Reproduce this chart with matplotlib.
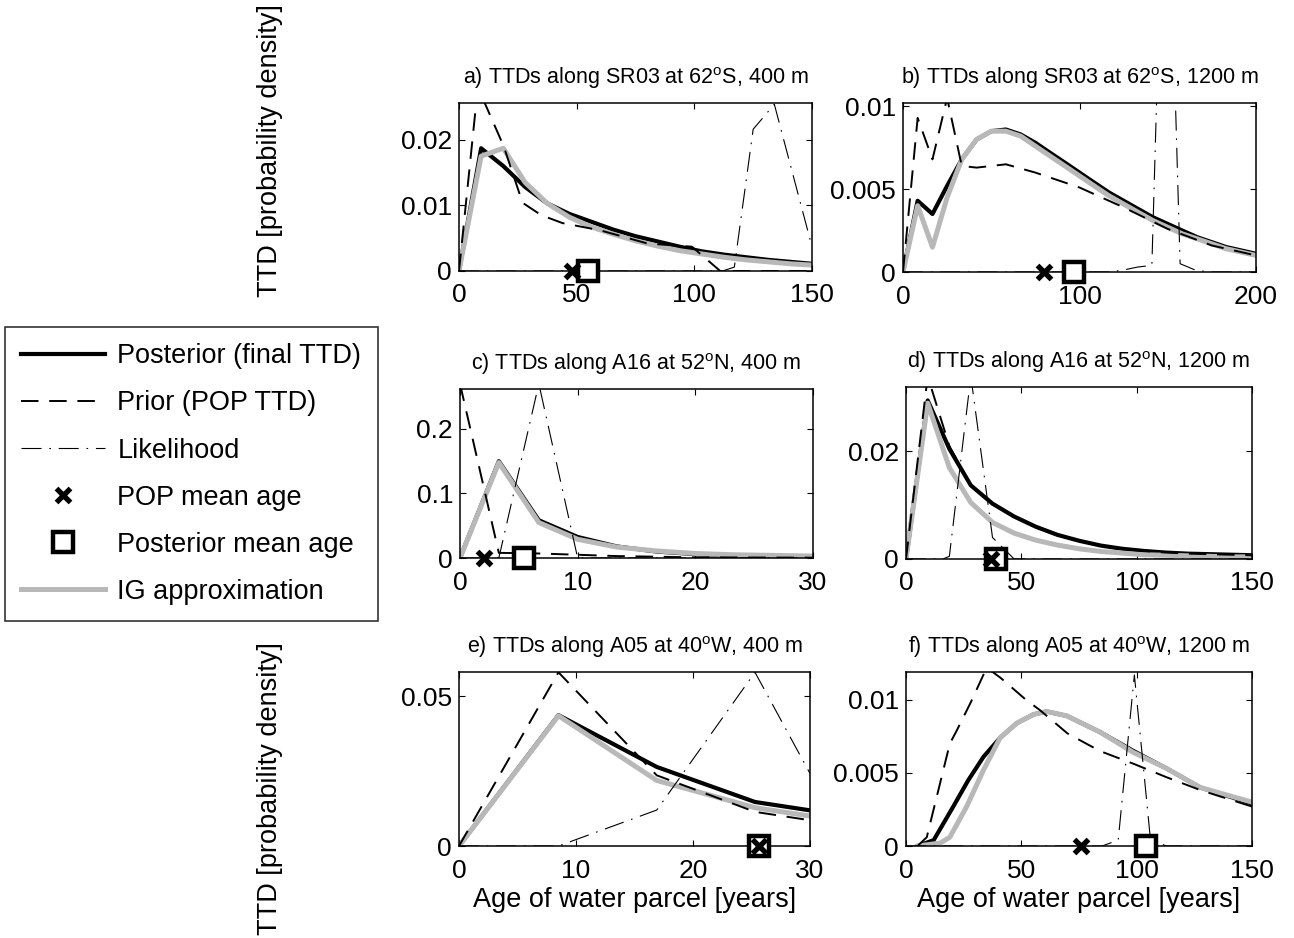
import matplotlib
matplotlib.use("Agg")
import matplotlib.pyplot as plt
from matplotlib.lines import Line2D

plt.rcParams['font.family'] = ['Liberation Sans', 'DejaVu Sans']
plt.rcParams['mathtext.fontset'] = 'custom'
plt.rcParams['mathtext.rm'] = 'Liberation Sans'

# ---------------- data ----------------
# panel a
a_x_post = [0, 9.4, 18.8, 28.1, 37.5, 46.9, 56.3, 65.6, 75, 84.4, 93.8, 103.1, 112.5, 121.9, 131.3, 140.6, 150]
a_post = [0, 0.0187, 0.0160, 0.0128, 0.0103, 0.0087, 0.0075, 0.0063, 0.0053, 0.0045, 0.0037, 0.0030, 0.0025, 0.0021, 0.0017, 0.0014, 0.0011]
a_ig = [0, 0.0175, 0.0187, 0.0135, 0.0103, 0.0082, 0.0067, 0.0056, 0.0046, 0.0038, 0.0031, 0.0026, 0.0021, 0.0017, 0.0014, 0.0011, 0.0009]
a_x_prior = [0, 8, 19, 27, 35, 44, 60, 80, 99, 111, 150]
a_prior = [0, 0.028, 0.019, 0.0104, 0.0085, 0.0073, 0.0062, 0.0042, 0.0037, 0.0, 0.0]
a_x_lik = [0, 112, 117, 125, 134, 150]
a_lik = [0, 0, 0.0006, 0.0216, 0.0254, 0.0037]
a_pop_mean = 48
a_post_mean = 55

# panel b
b_x_post = [0, 8.3, 16.7, 25, 33.3, 41.7, 50, 58.3, 66.7, 75, 83.3, 91.7, 100, 108.3, 116.7, 125, 133.3, 141.7, 150, 158.3, 166.7, 175, 183.3, 191.7, 200]
b_post = [0, 0.0043, 0.0035, 0.0052, 0.0068, 0.0080, 0.0085, 0.0086, 0.0083, 0.0078, 0.0072, 0.0066, 0.0060, 0.0054, 0.0048, 0.0043, 0.0038, 0.0033, 0.0029, 0.0025, 0.0021, 0.0018, 0.0015, 0.0013, 0.0011]
b_ig = [0, 0.0040, 0.0015, 0.0045, 0.0068, 0.0080, 0.0085, 0.0085, 0.0082, 0.0076, 0.0070, 0.0064, 0.0058, 0.0052, 0.0046, 0.0041, 0.0036, 0.0031, 0.0027, 0.0023, 0.0020, 0.0017, 0.0014, 0.0012, 0.0010]
b_x_prior = [0, 8.3, 16.7, 25, 33.3, 41.7, 50, 58.3, 75, 100, 125, 150, 175, 200]
b_prior = [0, 0.0093, 0.0068, 0.0105, 0.0064, 0.0063, 0.0064, 0.0065, 0.0060, 0.0051, 0.0039, 0.0026, 0.0016, 0.0010]
b_x_lik = [0, 116, 124, 133, 141, 149, 157, 166, 174, 200]
b_lik = [0, 0, 0.0001, 0.0003, 0.0004, 0.03, 0.0005, 0.0001, 0, 0]
b_pop_mean = 80
b_post_mean = 97

# panel c
c_x_post = [0, 3.3, 6.7, 10, 13.3, 16.7, 20, 23.3, 26.7, 30]
c_post = [0, 0.150, 0.0585, 0.0326, 0.018, 0.010, 0.006, 0.004, 0.003, 0.002]
c_ig = [0, 0.148, 0.055, 0.029, 0.017, 0.011, 0.007, 0.005, 0.004, 0.003]
c_x_prior = [0, 3.3, 6.7, 10, 13.3, 16.7, 20, 30]
c_prior = [0.27, 0.008, 0.007, 0.005, 0.003, 0.002, 0.001, 0.0005]
c_x_lik = [0, 3.3, 6.7, 10, 30]
c_lik = [0, 0, 0.27, 0, 0]
c_pop_mean = 2.0
c_post_mean = 5.4

# panel d
d_x_post = [0, 9.4, 18.8, 28.1, 37.5, 46.9, 56.3, 65.6, 75, 84.4, 93.8, 103.1, 112.5, 121.9, 131.3, 140.6, 150]
d_post = [0, 0.0295, 0.0205, 0.0137, 0.0103, 0.0079, 0.0060, 0.0045, 0.0034, 0.0025, 0.0019, 0.0015, 0.0012, 0.0010, 0.0009, 0.0008, 0.0007]
d_ig = [0, 0.0290, 0.0170, 0.0105, 0.0068, 0.0048, 0.0035, 0.0026, 0.0019, 0.0014, 0.0011, 0.0008, 0.0007, 0.0006, 0.0005, 0.0004, 0.0004]
d_prior = [0, 0.034, 0.0210, 0.0137, 0.0103, 0.0079, 0.0060, 0.0045, 0.0034, 0.0025, 0.0019, 0.0015, 0.0012, 0.0010, 0.0009, 0.0008, 0.0007]
d_x_lik = [0, 16, 18.8, 28.1, 37.5, 46.9, 150]
d_lik = [0, 0, 0.0005, 0.034, 0.004, 0, 0]
d_pop_mean = 37
d_post_mean = 39

# panel e
e_x_post = [0, 8.5, 16.9, 25.3, 30]
e_post = [0, 0.0437, 0.0264, 0.0147, 0.0119]
e_ig = [0, 0.0435, 0.0219, 0.0128, 0.0100]
e_prior = [0, 0.058, 0.0236, 0.0114, 0.0086]
e_x_lik = [0, 8.5, 16.9, 25.3, 30]
e_lik = [0, 0, 0.012, 0.058, 0.0242]
e_pop_mean = 25.6
e_post_mean = 25.6

# panel f
f_x_post = [5, 12, 20.5, 27, 33.6, 40.8, 48, 55.3, 61, 69.7, 84, 98.6, 113, 127.6, 150]
f_post = [0, 0.0004, 0.0027, 0.0045, 0.0061, 0.0074, 0.0084, 0.0090, 0.0092, 0.0089, 0.0078, 0.0065, 0.0053, 0.0040, 0.0029]
f_x_ig = [5, 14.8, 19, 26.3, 33.6, 40.8, 48, 55.3, 61, 69.7, 84, 98.6, 113, 127.6, 150]
f_ig = [0, 0.0002, 0.0006, 0.0027, 0.0052, 0.0074, 0.0084, 0.0090, 0.0092, 0.0089, 0.0078, 0.0064, 0.0053, 0.0040, 0.0030]
f_x_prior = [5, 9, 19, 22, 28, 35, 41, 52, 58, 70, 84, 99, 113, 128, 150]
f_prior = [0, 0.0006, 0.0070, 0.0079, 0.0098, 0.0122, 0.0115, 0.0100, 0.0093, 0.0077, 0.0065, 0.0056, 0.0047, 0.0038, 0.0027]
f_x_lik = [0, 85, 92, 99, 106, 113, 150]
f_lik = [0, 0, 0.0004, 0.0117, 0.0004, 0, 0]
f_pop_mean = 76
f_post_mean = 104

titles = [r"a) TTDs along SR03 at 62$^{\mathrm{o}}$S, 400 m",
          r"b) TTDs along SR03 at 62$^{\mathrm{o}}$S, 1200 m",
          r"c) TTDs along A16 at 52$^{\mathrm{o}}$N, 400 m",
          r"d) TTDs along A16 at 52$^{\mathrm{o}}$N, 1200 m",
          r"e) TTDs along A05 at 40$^{\mathrm{o}}$W, 400 m",
          r"f) TTDs along A05 at 40$^{\mathrm{o}}$W, 1200 m"]
xlims = [150, 200, 30, 150, 30, 150]
ylims = [0.0256, 0.0102, 0.262, 0.032, 0.0581, 0.0119]
xticks = [[0, 50, 100, 150], [0, 100, 200], [0, 10, 20, 30], [0, 50, 100, 150], [0, 10, 20, 30], [0, 50, 100, 150]]
yticks = [[0, 0.01, 0.02], [0, 0.005, 0.01], [0, 0.1, 0.2], [0, 0.02], [0, 0.05], [0, 0.005, 0.01]]
ytlabels = [["0", "0.01", "0.02"], ["0", "0.005", "0.01"], ["0", "0.1", "0.2"], ["0", "0.02"], ["0", "0.05"], ["0", "0.005", "0.01"]]
legend_labels = ["Posterior (final TTD)", "Prior (POP TTD)", "Likelihood",
                 "POP mean age", "Posterior mean age", "IG approximation"]
xlabel = "Age of water parcel [years]"
ylabel = "TTD [probability density]"

panels = [
    (a_x_post, a_post, a_x_post, a_ig, a_x_prior, a_prior, a_x_lik, a_lik, a_pop_mean, a_post_mean),
    (b_x_post, b_post, b_x_post, b_ig, b_x_prior, b_prior, b_x_lik, b_lik, b_pop_mean, b_post_mean),
    (c_x_post, c_post, c_x_post, c_ig, c_x_prior, c_prior, c_x_lik, c_lik, c_pop_mean, c_post_mean),
    (d_x_post, d_post, d_x_post, d_ig, d_x_post, d_prior, d_x_lik, d_lik, d_pop_mean, d_post_mean),
    (e_x_post, e_post, e_x_post, e_ig, e_x_post, e_prior, e_x_lik, e_lik, e_pop_mean, e_post_mean),
    (f_x_post, f_post, f_x_ig, f_ig, f_x_prior, f_prior, f_x_lik, f_lik, f_pop_mean, f_post_mean),
]

# ---------------- layout ----------------
W, H = 1294, 938
boxes_px = [(459, 812, 103, 271), (903, 1256, 103, 272),
            (460, 813, 389, 558), (906, 1252, 387, 559),
            (459, 810, 672, 846), (906, 1252, 672, 846)]

fig = plt.figure(figsize=(W / 100, H / 100), dpi=100)

GRAY = '#b8b8b8'
post_kw = dict(color='black', lw=3.0)
ig_kw = dict(color=GRAY, lw=3.6)
prior_kw = dict(color='black', lw=1.4, dashes=(9, 5.5))
lik_kw = dict(color='black', lw=0.8, dashes=(18, 7, 1.5, 7))
pop_kw = dict(marker='x', ms=10.5, mew=3.8, color='black', ls='none')
pm_kw = dict(marker='s', ms=15, mew=3.2, mec='black', mfc='white', ls='none')

for i, (box, p) in enumerate(zip(boxes_px, panels)):
    l, r, t, b = box
    ax = fig.add_axes([l / W, 1 - b / H, (r - l) / W, (b - t) / H])
    xp, yp, xi, yi, xpr, ypr, xl, yl, pm, qm = p
    ax.plot(xp, yp, **post_kw)
    ax.plot(xi, yi, **ig_kw)
    ax.plot(xpr, ypr, **prior_kw)
    ax.plot(xl, yl, **lik_kw)
    ax.plot([qm], [0], clip_on=False, zorder=5, **pm_kw)
    ax.plot([pm], [0], clip_on=False, zorder=6, **pop_kw)
    ax.set_xlim(0, xlims[i])
    ax.set_ylim(0, ylims[i])
    ax.set_xticks(xticks[i])
    ax.set_xticklabels([str(v) for v in xticks[i]])
    ax.set_yticks(yticks[i])
    ax.set_yticklabels(ytlabels[i])
    ax.tick_params(direction='in', length=4, width=0.8, top=True, right=True,
                   labelsize=19)
    ax.tick_params(axis='x', pad=9)
    ax.tick_params(axis='y', pad=5)
    for s in ax.spines.values():
        s.set_linewidth(1.1)
    ax.set_title(titles[i], fontsize=15.5, pad=14)
    if i >= 4:
        ax.set_xlabel(xlabel, fontsize=19.5, labelpad=3)

fig.text(270 / W, 1 - 151 / H, ylabel, rotation=90, ha='center', va='center', fontsize=19.5)
fig.text(270 / W, 1 - 789 / H, ylabel, rotation=90, ha='center', va='center', fontsize=19.5)

handles = [Line2D([], [], **post_kw), Line2D([], [], **prior_kw), Line2D([], [], **lik_kw),
           Line2D([], [], **pop_kw), Line2D([], [], **pm_kw), Line2D([], [], **ig_kw)]
leg = fig.legend(handles, legend_labels, loc='upper left',
                 bbox_to_anchor=(5 / W, 1 - 327 / H), fontsize=19.5,
                 handlelength=3.1, handletextpad=0.45, labelspacing=0.78,
                 borderpad=0.6, frameon=True, fancybox=False, borderaxespad=0)
leg.get_frame().set_edgecolor('black')
leg.get_frame().set_linewidth(1.2)

fig.savefig('out.png', dpi=100)
